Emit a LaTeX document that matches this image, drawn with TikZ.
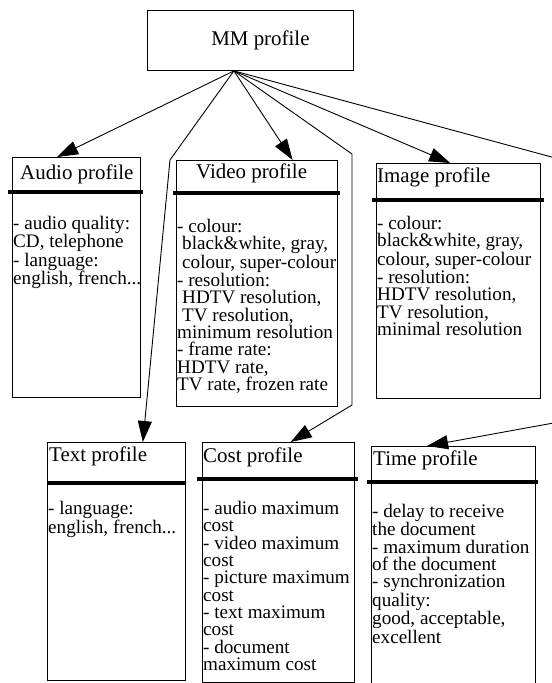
\documentclass[tikz,border=0pt]{standalone}
\usepackage{fontspec}
\setmainfont{Liberation Serif}
\usetikzlibrary{arrows.meta,positioning,calc}

\begin{document}
\begin{tikzpicture}[
  x=1bp, y=-1bp,
  pbox/.style  = {rectangle, draw, line width=0.9bp, anchor=north west, inner sep=0pt},
  phead/.style = {anchor=west, inner sep=0pt, font=\fontsize{21}{19}\selectfont},
  pbody/.style = {anchor=north west, inner sep=0pt, align=left,
                  font=\fontsize{19.2}{17.4}\selectfont},
  bar/.style   = {line width=4.5bp},
  arr/.style   = {-{Triangle[length=21bp,width=14bp]}, line width=0.9bp}
]
\useasboundingbox (0,0) rectangle (552,683);

% Perfil principal
\node[pbox, minimum width=206bp, minimum height=60bp,
      font=\fontsize{21}{19}\selectfont] (mm) at (147,10) {\hspace{20bp}MM profile};
\coordinate (apex) at ($(mm.south west)!0.42!(mm.south east)$);

% Fila superior
\node[pbox, minimum width=128bp, minimum height=240bp] (audio) at (12,157)  {};
\node[pbox, minimum width=161bp, minimum height=246bp] (video) at (176,160) {};
\node[pbox, minimum width=164bp, minimum height=235bp] (img)   at (376,163) {};

\node[phead] (audioh) at ($(audio.north west)+(8,17)$)  {Audio profile};
\node[phead] (videoh) at ($(video.north west)+(20,13)$) {Video profile};
\node[phead] (imgh)   at ($(img.north west)+(1,14)$)    {Image profile};

\draw[bar] ($(audio.north west)+(-4,35)$) -- ($(audio.north east)+(2,35)$);
\draw[bar] ($(video.north west)+(-3,33)$) -- ($(video.north east)+(2,33)$);
\draw[bar] ($(img.north west)+(-4,37)$)   -- ($(img.north east)+(3,37)$);

\node[pbody] (audiob) at ($(audio.north west)+(1,59)$)
  {- audio quality:\\CD, telephone\\- language:\\english, french...};
\node[pbody] (videob) at ($(video.north west)+(1,59)$)
  {- colour:\\\hspace{5bp}black\&white, gray,\\\hspace{5bp}colour, super-colour\\- resolution:\\
   \hspace{5bp}HDTV resolution,\\\hspace{5bp}TV resolution,\\minimum resolution\\- frame rate:\\
   HDTV rate,\\TV rate, frozen rate};
\node[pbody] (imgb)   at ($(img.north west)+(1,53)$)
  {- colour:\\black\&white, gray,\\colour, super-colour\\- resolution:\\HDTV resolution,\\
   TV resolution,\\minimal resolution};

% Fila inferior
\node[pbox, minimum width=138bp, minimum height=238bp] (txt)  at (47,442)  {};
\node[pbox, minimum width=152bp, minimum height=240bp] (cost) at (202,442) {};
\node[pbox, minimum width=164bp, minimum height=250bp] (time) at (371,446) {};

\node[phead] (txth)  at ($(txt.north west)+(2,14)$)  {Text profile};
\node[phead] (costh) at ($(cost.north west)+(1,15)$) {Cost profile};
\node[phead] (timeh) at ($(time.north west)+(2,14)$) {Time profile};

\draw[bar] ($(txt.north west)+(0,41)$)   -- ($(txt.north east)+(0,41)$);
\draw[bar] ($(cost.north west)+(-5,37)$) -- ($(cost.north east)+(3,37)$);
\draw[bar] ($(time.north west)+(-4,36)$) -- ($(time.north east)+(2,36)$);

\node[pbody] (txtb)  at ($(txt.north west)+(1,59)$)
  {- language:\\english, french...};
\node[pbody] (costb) at ($(cost.north west)+(1,59)$)
  {- audio maximum\\cost\\- video maximum\\cost\\- picture maximum\\cost\\
   - text maximum\\cost\\- document\\maximum cost};
\node[pbody] (timeb) at ($(time.north west)+(1,58)$)
  {- delay to receive\\the document\\- maximum duration\\of the document\\
   - synchronization\\quality:\\good, acceptable,\\excellent};

% Flechas
\coordinate (tbend)  at (170,160);
\coordinate (cbend1) at (352,154);
\coordinate (cbend2) at (352,405);
\coordinate (rbend1) at (570,162);
\coordinate (rbend2) at (570,420);

\draw[arr] (apex) -- ($(audio.north west)!0.35!(audio.north east)$);
\draw[arr] (apex) -- (tbend) -- ($(txt.north west)!0.69!(txt.north east)$);
\draw[arr] (apex) -- ($(video.north west)!0.72!(video.north east)$);
\draw[arr] (apex) -- (cbend1) -- (cbend2) -- ($(cost.north west)!0.58!(cost.north east)$);
\draw[arr] (apex) -- ($(img.north west)!0.45!(img.north east)$);
\draw[arr] (apex) -- (rbend1) -- (rbend2) -- ($(time.north west)!0.34!(time.north east)$);

\end{tikzpicture}
\end{document}
